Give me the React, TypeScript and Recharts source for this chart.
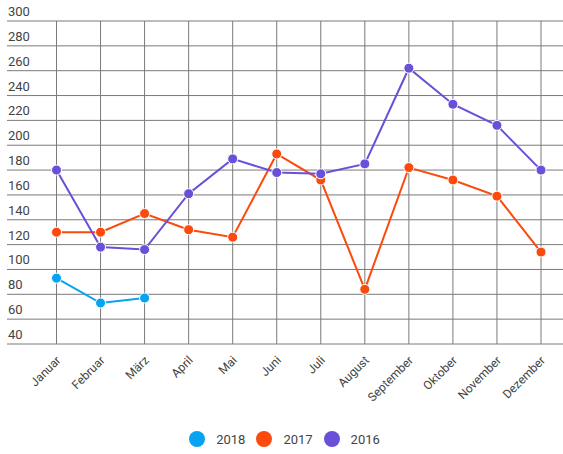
import React from 'react';
import { LineChart, Line, XAxis, YAxis, CartesianGrid, Legend } from 'recharts';

const MONTHS = [
  'Januar', 'Februar', 'März', 'April', 'Mai', 'Juni',
  'Juli', 'August', 'September', 'Oktober', 'November', 'Dezember',
];

// 2018 only has the first three months
const VALUES_2018 = [93, 73, 77];
const VALUES_2017 = [130, 130, 145, 132, 126, 193, 172, 84, 182, 172, 159, 114];
const VALUES_2016 = [180, 118, 116, 161, 189, 178, 177, 185, 262, 233, 216, 180];

const Y_TICKS = [40, 60, 80, 100, 120, 140, 160, 180, 200, 220, 240, 260, 280, 300];

const SERIES = [
  { key: 'y2018', name: '2018', color: '#05a3f0' },
  { key: 'y2017', name: '2017', color: '#fb4a0c' },
  { key: 'y2016', name: '2016', color: '#6a4fd8' },
];

const data = MONTHS.map((month, i) => ({
  month,
  y2018: VALUES_2018[i],
  y2017: VALUES_2017[i],
  y2016: VALUES_2016[i],
}));

const FONT = 'Roboto, "Noto Sans", sans-serif';

const YTick = (props: any) => {
  const { y, payload } = props;
  return (
    <text x={8} y={y - 5} textAnchor="start" fill="#444" fontSize={13} fontFamily={FONT}>
      {payload.value}
    </text>
  );
};

const XTick = (props: any) => {
  const { x, y, payload } = props;
  return (
    <g transform={`translate(${x + 5},${y + 9})`}>
      <text textAnchor="end" transform="rotate(-45)" fill="#444" fontSize={12} fontFamily={FONT}>
        {payload.value}
      </text>
    </g>
  );
};

// keep the legend in series order (recharts sorts by name otherwise)
const LegendContent = () => (
  <div style={{ display: 'flex', justifyContent: 'center', alignItems: 'center', height: 30, gap: 11 }}>
    {SERIES.map((s) => (
      <div key={s.key} style={{ display: 'flex', alignItems: 'center' }}>
        <span
          style={{
            width: 16,
            height: 16,
            borderRadius: '50%',
            background: s.color,
            display: 'inline-block',
            marginRight: 11,
          }}
        />
        <span style={{ fontSize: 13, color: '#444', fontFamily: FONT }}>{s.name}</span>
      </div>
    ))}
  </div>
);

export default function App() {
  return (
    <div style={{ width: 563, height: 454, background: '#fff' }}>
      <style>{'body{margin:0;}'}</style>
      <LineChart
        width={563}
        height={454}
        data={data}
        margin={{ top: 21, right: 0, bottom: 0, left: 6 }}
      >
        <CartesianGrid stroke="#7a7a7a" strokeWidth={1} syncWithTicks />
        <XAxis
          dataKey="month"
          axisLine={false}
          tickLine={false}
          interval={0}
          height={80}
          padding={{ left: 49.5, right: 22 }}
          tick={<XTick />}
        />
        <YAxis
          domain={[40, 300]}
          ticks={Y_TICKS}
          width={1}
          axisLine={false}
          tickLine={false}
          interval={0}
          tick={<YTick />}
        />
        <Legend verticalAlign="bottom" height={30} content={<LegendContent />} />
        {SERIES.map((s) => (
          <Line
            key={s.key}
            type="linear"
            dataKey={s.key}
            name={s.name}
            stroke={s.color}
            strokeWidth={2}
            dot={{ r: 5, fill: s.color, stroke: '#fff', strokeWidth: 1 }}
            activeDot={false}
            isAnimationActive={false}
          />
        ))}
      </LineChart>
    </div>
  );
}
